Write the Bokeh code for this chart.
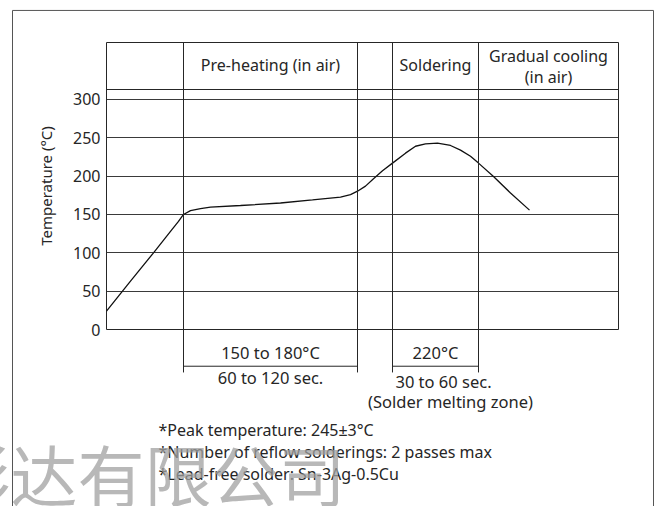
from bokeh.plotting import figure
from bokeh.models import Range1d, FixedTicker, ColumnDataSource
from bokeh.core.properties import value
from bokeh.embed import file_html
from bokeh.resources import INLINE

# ---- data ----
time_pts = [0, 24, 47, 64, 72, 77, 84, 94, 104, 134, 174, 206, 234, 244, 251, 259,
            267, 276, 286, 299, 309, 319, 331, 344, 354, 364, 372, 387, 404, 423]
temps = [24, 63, 100, 128, 141, 150, 155, 157.6, 159.5, 161.7, 165, 169, 172.6, 176,
         180.4, 187, 196.5, 207, 217, 230, 239, 242, 243, 240, 234, 226, 217, 199.6, 178, 155.7]
zone_bounds = [0, 77, 251, 286, 372, 512]
header_labels = ["Pre-heating (in air)", "Soldering"]
header_cols = [1, 3]
cooling_label = ["Gradual cooling", "(in air)"]
y_ticks = [0, 50, 100, 150, 200, 250, 300]
header_sep = 313
y_top = 374.3
preheat_span = ["150 to 180°C", "60 to 120 sec."]
solder_span = ["220°C", "30 to 60 sec.", "(Solder melting zone)"]
notes = ["*Peak temperature: 245±3°C",
         "*Number of reflow solderings: 2 passes max",
         "*Lead-free solder: Sn-3Ag-0.5Cu"]
watermark = "彩达有限公司"

FONT = "Noto Sans"
INK = "#262626"
UNIT_PX = 287 / y_top   # pixels per degree on the y scale

p = figure(width=660, height=506, x_range=Range1d(0, zone_bounds[-1]), y_range=Range1d(0, y_top),
           output_backend="svg", toolbar_location=None, x_axis_location=None,
           min_border_left=106, min_border_right=42, min_border_top=42, min_border_bottom=177)
p.outline_line_color = INK
p.outline_line_width = 1
p.background_fill_color = "white"
p.border_fill_color = "white"

ax = p.yaxis[0]
ax.ticker = FixedTicker(ticks=y_ticks)
ax.axis_line_color = None
ax.major_tick_line_color = None
ax.minor_tick_line_color = None
ax.major_tick_out = 0
ax.major_tick_in = 0
ax.major_label_standoff = 6
ax.major_label_text_font = FONT
ax.major_label_text_font_size = "16px"
ax.major_label_text_color = INK
ax.axis_label = "Temperature (°C)"
ax.axis_label_text_font = FONT
ax.axis_label_text_font_size = "15px"
ax.axis_label_text_font_style = "normal"
ax.axis_label_text_color = INK
ax.axis_label_standoff = 14

p.xgrid.visible = False
p.ygrid.ticker = FixedTicker(ticks=y_ticks[1:])
p.ygrid.grid_line_color = "#3a3a3a"
p.ygrid.grid_line_alpha = 1.0
p.ygrid.grid_line_width = 1

# header separator line
p.segment(x0=[zone_bounds[0]], x1=[zone_bounds[-1]], y0=[header_sep], y1=[header_sep],
          line_color=INK, line_width=1)

# zone lines (extend below the frame)
ext_y = -56
inner = zone_bounds[1:-1]
r = p.segment(x0=inner, x1=inner, y0=[ext_y] * len(inner), y1=[y_top] * len(inner),
              line_color=INK, line_width=1)
r.level = "overlay"

# curve
p.line(time_pts, temps, line_color="#111111", line_width=1.3)

def txt(xs, ys, texts, size="15px", align="center", baseline="middle", color=INK, font=FONT, alpha=1.0):
    src = ColumnDataSource(dict(x=xs, y=ys, t=texts))
    g = p.text(x="x", y="y", text="t", source=src, text_font=value(font), text_font_size=size,
               text_align=align, text_baseline=baseline, text_color=color, text_alpha=alpha)
    g.level = "overlay"
    return g

# header labels
hx = [(zone_bounds[c] + zone_bounds[c + 1]) / 2 for c in header_cols]
txt(hx, [345.5] * len(hx), header_labels, size="16px")
cx = (zone_bounds[4] + zone_bounds[5]) / 2
txt([cx, cx], [356.5, 328.9], cooling_label, size="16px")

# span arrows (double headed)
arr_y = -47.9
head_len = 10
head_half = 3.5 / UNIT_PX
spans = [(zone_bounds[1], zone_bounds[2]), (zone_bounds[3], zone_bounds[4])]
sa = p.segment(x0=[a for a, b in spans], x1=[b for a, b in spans], y0=[arr_y] * 2, y1=[arr_y] * 2,
               line_color=INK, line_width=1)
sa.level = "overlay"
hxs, hys = [], []
for a, b in spans:
    hxs.append([a, a + head_len, a + head_len])
    hys.append([arr_y, arr_y + head_half, arr_y - head_half])
    hxs.append([b, b - head_len, b - head_len])
    hys.append([arr_y, arr_y + head_half, arr_y - head_half])
ph = p.patches(xs=hxs, ys=hys, fill_color=INK, line_color=INK, line_width=1)
ph.level = "overlay"

px = (zone_bounds[1] + zone_bounds[2]) / 2
txt([px, px], [-30.5, -62.6], preheat_span, size="16.5px")
sx = (zone_bounds[3] + zone_bounds[4]) / 2
txt([sx, sx + 8, sx + 15], [-30.5, -67.8, -93.9], solder_span, size="16.5px")

# notes
txt([52] * 3, [-131.7, -160.4, -189.1], notes, size="16px", align="left")

# watermark
txt([-163], [-123.5], [watermark], size="67px", align="left", baseline="top",
    color="#a0a0a0", font="Noto Sans CJK SC", alpha=0.75)

# outer frame
fr = p.multi_line(xs=[[-94, -94, 547, 547]], ys=[[-400, 416.1, 416.1, -400]],
                  line_color="#555555", line_width=1)
fr.level = "overlay"

open("out.html", "w").write(file_html(p, INLINE))
